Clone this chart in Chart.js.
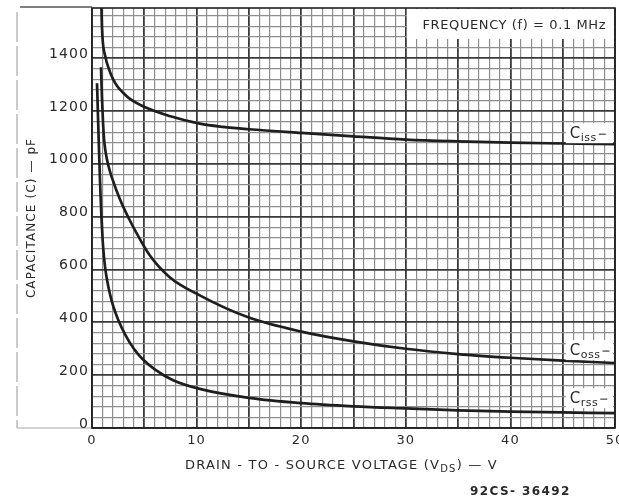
<!DOCTYPE html>
<html>
<head>
<meta charset="utf-8">
<script src="https://cdn.jsdelivr.net/npm/chart.js@4"></script>
<style>
  html, body { margin: 0; padding: 0; background: #fff; }
</style>
</head>
<body>
<canvas id="capChart" width="619" height="496"></canvas>
<script>
// Capacitance vs drain-to-source voltage
const cissV = [0.86, 0.92, 1.0, 1.25, 1.7, 2.0, 2.4, 3.0, 3.5, 5.2, 7.5, 10.3, 12.5, 15, 20, 25, 30, 35, 40, 45, 50];
const cissC = [1700, 1560, 1480, 1410, 1350, 1322, 1295, 1268, 1250, 1212, 1180, 1152, 1140, 1131, 1117, 1104, 1092, 1085, 1080, 1077, 1075];

const cossV = [0.86, 0.95, 1.05, 1.15, 1.3, 1.6, 1.92, 2.7, 3.5, 4.3, 5.5, 7.4, 10.3, 15, 20, 25, 30, 35, 40, 45, 50];
const cossC = [1366, 1255, 1160, 1095, 1045, 988, 946, 863, 795, 735, 655, 572, 502, 418, 365, 328, 300, 280, 266, 255, 246];

const crssV = [0.48, 0.58, 0.68, 0.78, 0.9, 1.02, 1.15, 1.3, 1.44, 1.7, 2.0, 2.5, 3.2, 4.0, 4.8, 6.0, 7.7, 10.3, 15, 20, 25, 30, 35, 40, 45, 50];
const crssC = [1305, 1170, 1040, 920, 800, 710, 645, 595, 560, 510, 465, 410, 352, 300, 262, 222, 182, 148, 114, 94, 82, 74, 67, 62, 59, 56];

// axis labels
const xLabelValues = [0, 10, 20, 30, 40, 50];
const yLabelValues = [0, 200, 400, 600, 800, 1000, 1200, 1400];
const yTitle = 'CAPACITANCE (C) \u2014 pF';
const noteText = 'FREQUENCY (f) = 0.1 MHz';
const figNumber = '92CS- 36492';

// graph paper: 1 V and 40 pF divisions
const xGridValues = [];
for (let v = 0; v <= 50; v++) xGridValues.push(v);
const yGridValues = [];
for (let c = 0; c <= 1560; c += 40) yGridValues.push(c);

const ink = '#1e1e1e';
const textInk = '#2a2a2a';
const minorGrid = '#8e8e8e';
const majorGrid = '#3a3a3a';

function toPoints(xs, ys) {
  return xs.map((x, i) => ({ x: x, y: ys[i] }));
}

function drawSub(ctx, x, y, main, sub, size) {
  ctx.font = size + 'px "DejaVu Sans"';
  ctx.fillText(main, x, y);
  const w = ctx.measureText(main).width;
  ctx.font = Math.round(size * 0.75) + 'px "DejaVu Sans"';
  ctx.fillText(sub, x + w, y + 3);
  return x + w + ctx.measureText(sub).width;
}

const paperPlugin = {
  id: 'paper',
  beforeDraw(chart) {
    const ctx = chart.ctx;
    const a = chart.chartArea;
    ctx.save();
    ctx.fillStyle = '#fff';
    ctx.fillRect(0, 0, chart.width, chart.height);
    // scanned frame round the axis label
    ctx.strokeStyle = '#555';
    ctx.lineWidth = 1.5;
    ctx.beginPath();
    ctx.moveTo(20, a.top - 1);
    ctx.lineTo(a.left, a.top - 1);
    ctx.stroke();
    ctx.strokeStyle = '#aaa';
    ctx.lineWidth = 1.2;
    ctx.setLineDash([30, 4]);
    ctx.beginPath();
    ctx.moveTo(17, a.top + 4);
    ctx.lineTo(17, a.bottom);
    ctx.stroke();
    ctx.setLineDash([]);
    ctx.beginPath();
    ctx.moveTo(17, a.bottom);
    ctx.lineTo(a.left, a.bottom);
    ctx.stroke();
    ctx.restore();
    // lettering on the original sheet is widely spaced
    ctx.letterSpacing = '1.1px';
  },
  afterDatasetsDraw(chart) {
    const ctx = chart.ctx;
    const a = chart.chartArea;
    const xs = chart.scales.x;
    const ys = chart.scales.y;
    ctx.save();

    // plot border
    ctx.strokeStyle = ink;
    ctx.lineWidth = 1.6;
    ctx.strokeRect(a.left, a.top, a.right - a.left, a.bottom - a.top);

    // frequency note
    const nx = xs.getPixelForValue(30.1);
    ctx.fillStyle = '#fff';
    ctx.fillRect(nx, a.top + 1, a.right - nx - 1, 30);
    ctx.fillStyle = textInk;
    ctx.font = '13px "DejaVu Sans"';
    ctx.letterSpacing = '0.6px';
    ctx.textBaseline = 'alphabetic';
    ctx.textAlign = 'left';
    ctx.fillText(noteText, xs.getPixelForValue(31.6), a.top + 21);

    // curve labels
    ctx.letterSpacing = '0.5px';
    const tags = [['C', 'iss', 1116], ['C', 'oss', 295], ['C', 'rss', 113]];
    tags.forEach(t => {
      const bx = xs.getPixelForValue(45.3);
      const by = ys.getPixelForValue(t[2]);
      ctx.fillStyle = '#fff';
      ctx.fillRect(bx, by - 10, a.right - bx - 2, 20);
      ctx.fillStyle = textInk;
      const end = drawSub(ctx, bx + 4, by + 5, t[0], t[1], 15);
      ctx.strokeStyle = '#444';
      ctx.lineWidth = 1.2;
      ctx.beginPath();
      ctx.moveTo(end + 2, by + 1);
      ctx.lineTo(end + 9, by + 1);
      ctx.stroke();
    });

    // x axis title with subscript
    ctx.letterSpacing = '1.2px';
    ctx.fillStyle = textInk;
    let tx = drawSub(ctx, 185, 469, 'DRAIN - TO - SOURCE VOLTAGE (V', 'DS', 13);
    ctx.font = '13px "DejaVu Sans"';
    ctx.fillText(') \u2014 V', tx, 469);

    // figure number
    ctx.letterSpacing = '1.4px';
    ctx.font = 'bold 12px "DejaVu Sans"';
    ctx.fillText(figNumber, 470, 495);
    ctx.restore();
  }
};

const ctx = document.getElementById('capChart').getContext('2d');

const chartData = {
  datasets: [
    { label: 'Ciss', data: toPoints(cissV, cissC) },
    { label: 'Coss', data: toPoints(cossV, cossC) },
    { label: 'Crss', data: toPoints(crssV, crssC) }
  ].map(d => Object.assign(d, {
    showLine: true,
    borderColor: ink,
    borderWidth: 2.7,
    pointRadius: 0,
    fill: false,
    cubicInterpolationMode: 'monotone'
  }))
};

const chartConfig = {
  type: 'scatter',
  data: chartData,
  options: {
    responsive: false,
    devicePixelRatio: 1,
    animation: false,
    layout: { padding: { left: 16, top: 8, right: 4, bottom: 0 } },
    plugins: {
      legend: { display: false },
      tooltip: { enabled: false }
    },
    scales: {
      x: {
        type: 'linear',
        min: 0,
        max: 50,
        afterBuildTicks: s => { s.ticks = xGridValues.map(v => ({ value: v })); },
        afterFit: s => { s.height = 68; s.paddingLeft = 0; s.paddingRight = 0; },
        border: { display: false },
        grid: {
          drawTicks: false,
          color: c => (c.tick && c.tick.value % 5 === 0) ? majorGrid : minorGrid,
          lineWidth: c => (c.tick && c.tick.value % 5 === 0) ? 1.8 : 1.2
        },
        ticks: {
          autoSkip: false,
          maxRotation: 0,
          padding: 5,
          color: textInk,
          font: { family: 'DejaVu Sans', size: 13 },
          callback: v => xLabelValues.includes(v) ? String(v) : ''
        }
      },
      y: {
        type: 'linear',
        min: 0,
        max: 1590,
        afterBuildTicks: s => { s.ticks = yGridValues.map(v => ({ value: v })); },
        afterFit: s => { s.width = 76; s.paddingTop = 0; s.paddingBottom = 0; },
        border: { display: false },
        grid: {
          drawTicks: false,
          color: c => (c.tick && c.tick.value % 200 === 0) ? majorGrid : minorGrid,
          lineWidth: c => (c.tick && c.tick.value % 200 === 0) ? 1.8 : 1.2
        },
        title: {
          display: true,
          text: yTitle,
          color: textInk,
          font: { family: 'DejaVu Sans', size: 12 },
          padding: { top: 9, bottom: 0 }
        },
        ticks: {
          autoSkip: false,
          padding: 3,
          labelOffset: -4,
          color: textInk,
          font: { family: 'DejaVu Sans', size: 14 },
          callback: v => yLabelValues.includes(v) ? String(v) : ''
        }
      }
    }
  },
  plugins: [paperPlugin]
};

new Chart(ctx, chartConfig);
</script>
</body>
</html>
